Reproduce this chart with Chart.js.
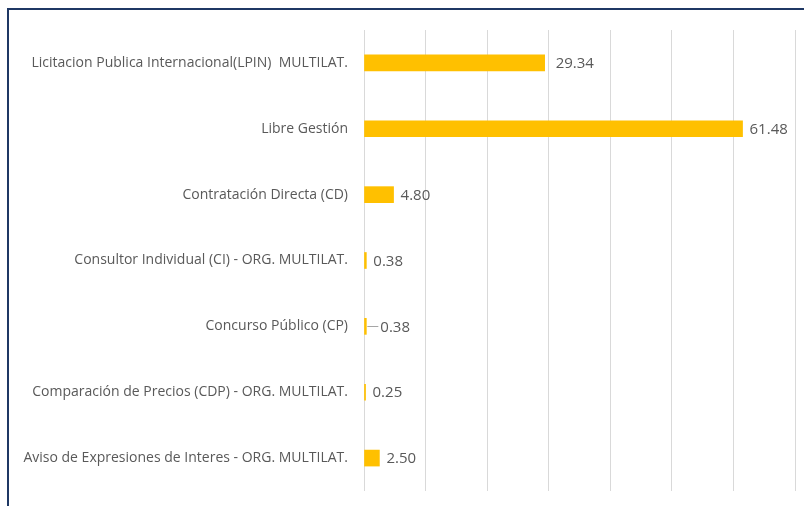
<!DOCTYPE html>
<html>
<head>
<meta charset="utf-8">
<script src="https://cdn.jsdelivr.net/npm/chart.js@4.4.1/dist/chart.umd.min.js"></script>
<style>
  html,body{margin:0;padding:0;background:#fff;overflow:hidden;}
  #wrap{position:relative;width:804px;height:506px;}
  #frame{position:absolute;left:7px;top:8px;width:830px;height:540px;border:2px solid #1f3864;box-sizing:border-box;}
  canvas{position:absolute;left:0;top:0;}
</style>
</head>
<body>
<div id="wrap">
  <div id="frame"></div>
  <canvas id="c" width="804" height="506"></canvas>
</div>
<script>
// categories, top to bottom
const categories = [
  'Licitacion Publica Internacional(LPIN)  MULTILAT.',
  'Libre Gestión',
  'Contratación Directa (CD)',
  'Consultor Individual (CI) - ORG. MULTILAT.',
  'Concurso Público (CP)',
  'Comparación de Precios (CDP) - ORG. MULTILAT.',
  'Aviso de Expresiones de Interes - ORG. MULTILAT.'
];
const values = [29.34, 61.48, 4.80, 0.38, 0.38, 0.25, 2.50];
const xTicks = [0, 10, 20, 30, 40, 50, 60, 70];

const FONT = '"Open Sans", "Noto Sans", sans-serif';
const TXT = '#595959';
const LEADER_IDX = 4; // Concurso Público label sits off the bar with a small leader

// value labels at the end of each bar
const valueLabels = {
  id: 'valueLabels',
  afterDatasetsDraw(chart){
    const ctx = chart.ctx;
    const meta = chart.getDatasetMeta(0);
    ctx.save();
    ctx.font = '15px ' + FONT;
    ctx.fillStyle = TXT;
    ctx.textBaseline = 'middle';
    ctx.textAlign = 'left';
    meta.data.forEach((bar, i)=>{
      let off = 7;
      if(i === 0) off = 11;
      if(i === LEADER_IDX){
        off = 14;
        ctx.strokeStyle = '#a6a6a6';
        ctx.lineWidth = 1;
        ctx.beginPath();
        ctx.moveTo(bar.x + 1, Math.round(bar.y) + 0.5);
        ctx.lineTo(bar.x + off - 2, Math.round(bar.y) + 0.5);
        ctx.stroke();
      }
      ctx.fillText(values[i].toFixed(2), bar.x + off, bar.y + 1);
    });
    ctx.restore();
  }
};

new Chart(document.getElementById('c'), {
  type: 'bar',
  data: {
    labels: categories,
    datasets: [{
      data: values,
      backgroundColor: '#FFC000',
      borderWidth: 0,
      barThickness: 16
    }]
  },
  options: {
    indexAxis: 'y',
    responsive: false,
    animation: false,
    layout: { padding: { top: 30, bottom: 15, right: 9, left: 0 } },
    plugins: { legend: { display: false }, tooltip: { enabled: false } },
    scales: {
      x: {
        min: 0, max: 70,
        afterBuildTicks: s => { s.ticks = xTicks.map(v => ({ value: v })); },
        afterFit: s => { s.height = 0; },
        ticks: { display: false },
        grid: { color: '#d9d9d9', lineWidth: 1, drawTicks: false },
        border: { display: false }
      },
      y: {
        afterFit: s => { s.width = 364; s.paddingTop = 0; s.paddingBottom = 0; },
        grid: { display: false, drawTicks: false },
        border: { display: false },
        ticks: { color: TXT, font: { family: FONT, size: 14 }, padding: 16 }
      }
    }
  },
  plugins: [valueLabels]
});
</script>
</body>
</html>
